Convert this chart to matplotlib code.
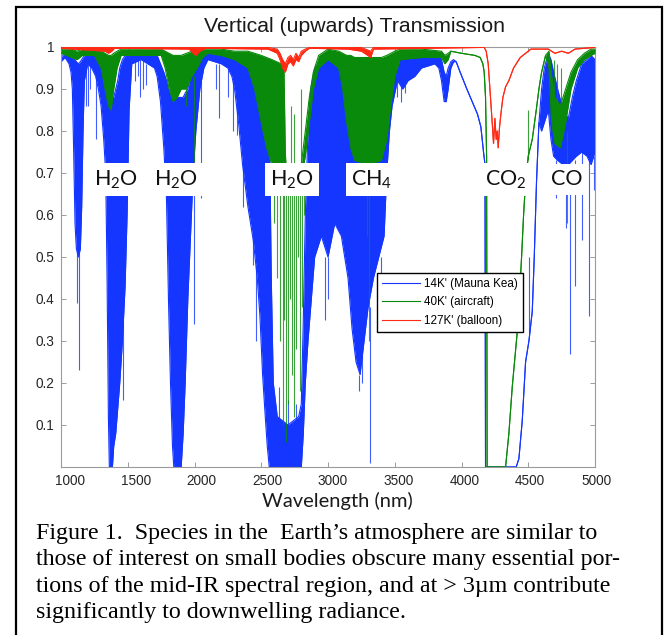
import matplotlib
matplotlib.use("Agg")
import matplotlib.pyplot as plt
from matplotlib.patches import Rectangle
from matplotlib.transforms import ScaledTranslation

# ---- data (transmission envelopes, wavelength in nm) ----
# 14K' (Mauna Kea): upper / lower envelope of the dense line spectrum
blue_wl = [1000, 1030, 1060, 1075, 1085, 1095, 1105, 1115, 1130, 1145, 1155, 1165, 1175, 1200, 1230, 1260,
           1280, 1300, 1320, 1335, 1345, 1355, 1362, 1385, 1395, 1410, 1425, 1440, 1460, 1480, 1495,
           1510, 1530, 1600, 1650, 1700, 1720, 1745, 1770, 1790, 1805, 1820, 1835, 1845, 1900, 1915,
           1930, 1950, 1970, 1990, 2010, 2040, 2070, 2100, 2200, 2250, 2280, 2300, 2330, 2360, 2400,
           2440, 2470, 2490, 2510, 2530, 2545, 2560, 2575, 2590, 2620, 2700, 2780, 2800, 2815, 2830,
           2850, 2870, 2900, 2950, 3000, 3050, 3100, 3150, 3180, 3210, 3240, 3270, 3300, 3340, 3380,
           3420, 3440, 3460, 3480, 3520, 3560, 3600, 3650, 3700, 3750, 3800, 3830, 3850, 3870, 3885,
           3900, 3920, 3940, 3960, 3990, 4040, 4080, 4120, 4145, 4165, 4176, 4180, 4410, 4430, 4455,
           4480, 4505, 4530, 4545, 4562, 4580, 4600, 4620, 4650, 4670, 4690, 4720, 4760, 4800, 4830,
           4860, 4900, 4940, 4970, 5000]
blue_hi = [0.975, 0.985, 0.985, 0.98, 0.975, 0.97, 0.97, 0.965, 0.96, 0.965, 0.97, 0.975, 0.98, 0.985, 0.985, 0.98,
           0.975, 0.96, 0.93, 0.90, 0.88, 0.88, 0.88, 0.88, 0.88, 0.90, 0.92, 0.95, 0.97, 0.98, 0.985,
           0.99, 0.99, 0.99, 0.99, 0.985, 0.98, 0.96, 0.94, 0.92, 0.90, 0.89, 0.88, 0.88, 0.88, 0.88,
           0.89, 0.90, 0.93, 0.95, 0.97, 0.98, 0.99, 0.99, 0.99, 0.99, 0.985, 0.98, 0.975, 0.97, 0.965,
           0.96, 0.955, 0.95, 0.94, 0.93, 0.90, 0.85, 0.45, 0.20, 0.12, 0.10, 0.12, 0.15, 0.35, 0.60,
           0.80, 0.90, 0.95, 0.97, 0.97, 0.97, 0.96, 0.95, 0.94, 0.93, 0.93, 0.93, 0.93, 0.94, 0.94,
           0.95, 0.96, 0.97, 0.975, 0.98, 0.985, 0.985, 0.99, 0.99, 0.99, 0.99, 0.985, 0.97, 0.94, 0.93,
           0.95, 0.965, 0.97, 0.965, 0.94, 0.90, 0.87, 0.84, 0.81, 0.75, 0.72, 0.0, 0.0, 0.02, 0.11,
           0.25, 0.30, 0.37, 0.50, 0.68, 0.82, 0.90, 0.95, 0.985, 0.97, 0.94, 0.90, 0.85, 0.83, 0.88,
           0.92, 0.96, 0.97, 0.98, 0.97]
blue_lo = [0.965, 0.975, 0.96, 0.94, 0.90, 0.75, 0.58, 0.52, 0.50, 0.52, 0.62, 0.80, 0.92, 0.96, 0.95, 0.93,
           0.90, 0.86, 0.78, 0.70, 0.45, 0.12, 0.0, 0.0, 0.05, 0.08, 0.14, 0.20, 0.30, 0.43, 0.60,
           0.85, 0.96, 0.97, 0.96, 0.95, 0.93, 0.87, 0.76, 0.64, 0.40, 0.20, 0.05, 0.0, 0.0, 0.08,
           0.20, 0.40, 0.55, 0.70, 0.80, 0.90, 0.95, 0.97, 0.96, 0.95, 0.93, 0.90, 0.82, 0.72, 0.62,
           0.54, 0.45, 0.36, 0.22, 0.12, 0.05, 0.0, 0.0, 0.0, 0.0, 0.0, 0.0, 0.0, 0.08, 0.20,
           0.30, 0.38, 0.50, 0.55, 0.50, 0.58, 0.55, 0.45, 0.33, 0.25, 0.22, 0.30, 0.38, 0.45, 0.50,
           0.55, 0.70, 0.80, 0.86, 0.92, 0.90, 0.92, 0.93, 0.95, 0.955, 0.96, 0.95, 0.92, 0.87, 0.87,
           0.90, 0.95, 0.965, 0.965, 0.94, 0.90, 0.87, 0.84, 0.81, 0.75, 0.72, 0.0, 0.0, 0.02, 0.11,
           0.25, 0.30, 0.37, 0.50, 0.68, 0.82, 0.80, 0.82, 0.85, 0.78, 0.74, 0.73, 0.72, 0.72, 0.73,
           0.74, 0.75, 0.74, 0.72, 0.75]
# isolated blue lines: wavelength, start, end
blue_spk_wl = [1122, 1133, 1185, 1200, 1215, 1265, 1465, 1555, 1575, 1590, 1615, 1640, 1997, 2052,
               2160, 2180, 2250, 2290, 2317, 2360, 2435, 2460, 2630, 2700, 2760, 2980, 3000, 3230, 3255,
               3317, 3400, 3520, 3545, 3580, 4502, 4707, 4780, 4812, 4850, 4900, 4957, 4990]
blue_spk_a = [0.55, 0.52, 0.95, 0.96, 0.96, 0.93, 0.35, 0.97, 0.97, 0.97, 0.97, 0.96, 0.75, 0.92,
              0.96, 0.96, 0.95, 0.92, 0.86, 0.72, 0.55, 0.48, 0.0, 0.0, 0.0, 0.50, 0.50, 0.22, 0.30,
              0.38, 0.50, 0.92, 0.92, 0.92, 0.32, 0.73, 0.72, 0.72, 0.73, 0.75, 0.74, 0.74]
blue_spk_b = [0.39, 0.23, 0.86, 0.86, 0.90, 0.78, 0.16, 0.92, 0.93, 0.88, 0.90, 0.91, 0.34, 0.64,
              0.90, 0.83, 0.88, 0.80, 0.79, 0.62, 0.48, 0.30, 0.19, 0.16, 0.15, 0.35, 0.40, 0.18, 0.20,
              0.01, 0.42, 0.88, 0.87, 0.89, 0.50, 0.64, 0.57, 0.27, 0.43, 0.54, 0.36, 0.66]

# 40K' (aircraft)
green_wl = [1000, 1080, 1120, 1160, 1250, 1300, 1330, 1355, 1375, 1395, 1420, 1450, 1750, 1780, 1810,
            1840, 1870, 1900, 1940, 1980, 2020, 2060, 2100, 2200, 2300, 2350, 2400, 2450, 2500, 2540,
            2580, 2650, 2670, 2680, 2690, 2800, 2830, 2860, 2890, 2930, 3000, 3080, 3110, 3140, 3170,
            3200, 3300, 3400, 3440, 3470, 3500, 3540, 3700, 3850, 3875, 3900, 3920, 4000, 4100, 4140,
            4160, 4170, 4180, 4188, 4192, 4330, 4355, 4380, 4400, 4420, 4435, 4450, 4465, 4480, 4500,
            4530, 4560, 4580, 4600, 4630, 4655, 4675, 4700, 4740, 4780, 4820, 4870, 4920, 4970, 5000]
green_hi = [0.995, 0.995, 0.99, 0.995, 0.995, 0.99, 0.985, 0.98, 0.98, 0.985, 0.99, 0.995, 0.995, 0.99, 0.985,
            0.98, 0.98, 0.98, 0.985, 0.99, 0.99, 0.995, 0.995, 0.995, 0.99, 0.99, 0.99, 0.985, 0.98, 0.975,
            0.97, 0.96, 0.95, 0.75, 0.69, 0.72, 0.80, 0.88, 0.94, 0.98, 0.995, 0.99, 0.985, 0.98, 0.98,
            0.975, 0.975, 0.975, 0.98, 0.985, 0.99, 0.995, 0.995, 0.99, 0.98, 0.985, 0.99, 0.985, 0.98, 0.975,
            0.96, 0.94, 0.88, 0.74, 0.0, 0.0, 0.08, 0.19, 0.26, 0.33, 0.41, 0.50, 0.60, 0.68, 0.74,
            0.78, 0.85, 0.90, 0.94, 0.98, 0.99, 0.93, 0.88, 0.86, 0.90, 0.94, 0.97, 0.985, 0.995, 0.995]
green_lo = [0.985, 0.975, 0.97, 0.98, 0.98, 0.95, 0.90, 0.86, 0.85, 0.90, 0.95, 0.98, 0.98, 0.95, 0.90,
            0.87, 0.88, 0.90, 0.90, 0.93, 0.95, 0.975, 0.985, 0.98, 0.97, 0.96, 0.95, 0.90, 0.82, 0.76,
            0.72, 0.72, 0.72, 0.69, 0.69, 0.69, 0.74, 0.82, 0.90, 0.95, 0.97, 0.95, 0.90, 0.82, 0.76,
            0.73, 0.72, 0.73, 0.78, 0.86, 0.93, 0.97, 0.975, 0.975, 0.96, 0.97, 0.99, 0.985, 0.98, 0.975,
            0.96, 0.94, 0.88, 0.74, 0.0, 0.0, 0.08, 0.19, 0.26, 0.33, 0.41, 0.50, 0.60, 0.68, 0.74,
            0.78, 0.85, 0.90, 0.94, 0.98, 0.95, 0.82, 0.77, 0.76, 0.82, 0.90, 0.95, 0.97, 0.98, 0.985]
green_spk_wl = [1940, 1997, 2592, 2620, 2640, 2660, 2672, 2685, 2700, 2712, 2720, 2730, 2745, 2745, 2760,
                2775, 2787, 2800, 2805, 2820, 3290, 3310, 4495, 4690, 4715, 4745, 4790]
green_spk_a = [0.90, 0.93, 0.72, 0.72, 0.72, 0.72, 0.72, 0.70, 0.70, 0.70, 0.70, 0.70, 0.70, 0.70, 0.70,
               0.70, 0.70, 0.70, 0.70, 0.75, 0.72, 0.72, 0.73, 0.88, 0.86, 0.86, 0.80]
green_spk_b = [0.86, 0.727, 0.58, 0.45, 0.30, 0.10, 0.35, 0.06, 0.15, 0.40, 0.86, 0.22, 0.12, 0.84, 0.28,
               0.50, 0.18, 0.90, 0.38, 0.60, 0.55, 0.30, 0.85, 0.97, 0.96, 0.95, 0.58]

# 127K' (balloon)
red_wl = [1000, 1330, 1355, 1380, 1400, 1960, 1990, 2010, 2040, 2080, 2550, 2620, 2640, 2660, 2680,
          2700, 2720, 2740, 2760, 2780, 2800, 2830, 2860, 3150, 3250, 3320, 3340, 4170, 4185, 4200,
          4215, 4230, 4240, 4250, 4260, 4268, 4275, 4285, 4295, 4310, 4330, 4355, 4390, 4440, 4500,
          4520, 4650, 4700, 4750, 4800, 4850, 5000]
red_hi = [0.999, 0.999, 0.999, 0.999, 0.999, 0.999, 0.999, 0.999, 0.999, 0.999, 0.999, 0.995, 0.985, 0.97, 0.96,
          0.975, 0.98, 0.97, 0.985, 0.975, 0.99, 0.995, 0.999, 0.999, 0.999, 0.99, 0.999, 0.999, 0.99, 0.96,
          0.89, 0.82, 0.77, 0.83, 0.78, 0.80, 0.76, 0.81, 0.84, 0.88, 0.905, 0.92, 0.95, 0.975, 0.99,
          0.995, 0.995, 0.985, 0.99, 0.985, 0.995, 0.999]
red_lo = [0.997, 0.99, 0.985, 0.99, 0.997, 0.995, 0.985, 0.98, 0.99, 0.997, 0.995, 0.985, 0.97, 0.95, 0.94,
          0.96, 0.965, 0.955, 0.97, 0.965, 0.98, 0.99, 0.997, 0.995, 0.99, 0.975, 0.995, 0.999, 0.99, 0.96,
          0.89, 0.82, 0.77, 0.83, 0.78, 0.80, 0.76, 0.81, 0.84, 0.88, 0.905, 0.92, 0.95, 0.975, 0.99,
          0.995, 0.995, 0.985, 0.99, 0.985, 0.995, 0.999]

series_names = ["14K' (Mauna Kea)", "40K' (aircraft)", "127K' (balloon)"]
series_colors = ['#1436ff', '#0a8a0a', '#ff2a14']

species = ['H$_\\mathregular{2}$O', 'H$_\\mathregular{2}$O', 'H$_\\mathregular{2}$O', 'CH$_\\mathregular{4}$',
           'CO$_\\mathregular{2}$', 'CO']
species_wl = [1412, 1865, 2730, 3330, 4330, 4792]

xticks = [1000, 1500, 2000, 2500, 3000, 3500, 4000, 4500, 5000]
yticks = [0.1, 0.2, 0.3, 0.4, 0.5, 0.6, 0.7, 0.8, 0.9, 1.0]
ytick_labels = ['0.1', '0.2', '0.3', '0.4', '0.5', '0.6', '0.7', '0.8', '0.9', '1']

caption = ["Figure 1.  Species in the  Earth\u2019s atmosphere are similar to",
           "those of interest on small bodies obscure many essential por-",
           "tions of the mid-IR spectral region, and at > 3\u00b5m contribute",
           "significantly to downwelling radiance."]

# ---- figure ----
plt.rcParams['font.family'] = ['Liberation Sans', 'DejaVu Sans']
fig = plt.figure(figsize=(6.65, 6.35), dpi=100)
ax = fig.add_axes([61 / 665, 1 - 467 / 635, 534 / 665, 420 / 635])

series = [(blue_wl, blue_hi, blue_lo, blue_spk_wl, blue_spk_a, blue_spk_b),
          (green_wl, green_hi, green_lo, green_spk_wl, green_spk_a, green_spk_b),
          (red_wl, red_hi, red_lo, [], [], [])]
handles = []
for i, (wl, hi, lo, swl, sa, sb) in enumerate(series):
    c = series_colors[i]
    z = 2 + i
    ax.fill_between(wl, lo, hi, color=c, lw=0, zorder=z)
    h, = ax.plot(wl, hi, color=c, lw=0.8, zorder=z, label=series_names[i])
    ax.plot(wl, lo, color=c, lw=0.8, zorder=z)
    if swl:
        ax.vlines(swl, sa, sb, color=c, lw=0.8, alpha=0.8, zorder=z)
    handles.append(h)

for name, w in zip(species, species_wl):
    ax.text(w, 0.685, name, ha='center', va='center', fontsize=15.5, family='Lato', color='#111111',
            zorder=10, bbox=dict(boxstyle='square,pad=0.25', fc='white', ec='none'))

ax.set_xlim(1000, 5000)
ax.set_ylim(0, 1)
ax.set_xticks(xticks)
ax.set_yticks(yticks, ytick_labels)
ax.tick_params(direction='in', top=True, right=True, length=3.5, width=0.6, color='#8c8c8c',
               labelcolor='#262626', labelsize=9.8, pad=5)
for s in ax.spines.values():
    s.set_color('#9a9a9a')
    s.set_linewidth(0.8)
# the exported x tick labels sit a little right of their ticks
for k, lab in enumerate(ax.get_xticklabels()):
    lab.set_transform(lab.get_transform() + ScaledTranslation((9 - k) / 100, 0, fig.dpi_scale_trans))

leg = ax.legend(handles=handles, loc='upper left', bbox_to_anchor=(0.592, 0.4626), fontsize=8.4,
                frameon=True, fancybox=False, edgecolor='black', framealpha=1, handlelength=3.2,
                handletextpad=0.35, borderpad=0.45, labelspacing=0.55, borderaxespad=0)
leg.get_frame().set_linewidth(1.0)
leg.set_zorder(20)

fig.text(355 / 665, 1 - 27 / 635, 'Vertical (upwards) Transmission', ha='center', va='center',
         fontsize=15.3, color='#1a1a1a')
fig.text(337 / 665, 1 - 501 / 635, 'Wavelength (nm)', ha='center', va='center', fontsize=14.5,
         family='Lato', color='#1a1a1a')

for k, line in enumerate(caption):
    fig.text(36 / 665, 1 - (539 + 26.3 * k) / 635, line, ha='left', va='baseline', fontsize=17.3,
             family='Liberation Serif', color='black')

fig.add_artist(Rectangle((16 / 665, -0.05), 646 / 665, 1.05 - 7 / 635, transform=fig.transFigure,
                         fill=False, ec='black', lw=1.6))

fig.savefig('out.png', dpi=100)
